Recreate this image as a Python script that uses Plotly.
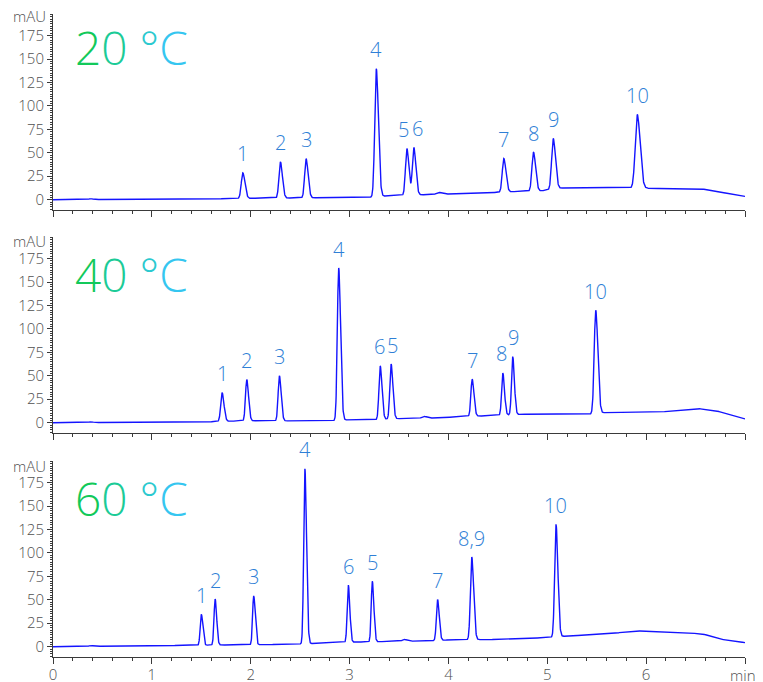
import numpy as np
import plotly.graph_objects as go

# ---------------- data ----------------
panel_titles = ["20", "40", "60"]

# peak retention times (min), heights above baseline (mAU), widths (sigma, min)
rt_20 = [0.38, 0.62, 1.92, 2.30, 2.56, 3.27, 3.58, 3.65, 3.90, 4.56, 4.86, 5.06, 5.91]
h_20 = [0.8, 0.5, 27.3, 38.6, 41.6, 136.5, 49.6, 50.5, 2.0, 35.8, 41.4, 54.0, 78.3]
w_20 = [0.02, 0.02, 0.018, 0.017, 0.017, 0.018, 0.017, 0.017, 0.025, 0.018, 0.018, 0.019, 0.024]
lab_20 = ["", "", "1", "2", "3", "4", "5", "6", "", "7", "8", "9", "10"]
base_t_20 = [0.0, 1.5, 1.9, 2.3, 2.6, 3.2, 3.4, 3.78, 4.0, 4.5, 4.65, 4.95, 5.15, 5.9, 6.1, 6.57, 7.0]
base_v_20 = [0.0, 0.8, 1.3, 1.8, 2.0, 2.5, 4.3, 5.4, 6.0, 7.8, 8.6, 9.6, 12.5, 12.5, 12.0, 11.4, 3.5]

rt_40 = [0.38, 0.75, 1.71, 1.96, 2.29, 2.89, 3.31, 3.42, 3.75, 4.24, 4.55, 4.65, 5.49]
h_40 = [0.7, 0.5, 30.5, 44.0, 48.0, 162.5, 57.0, 58.5, 2.0, 39.5, 45.0, 62.0, 110.0]
w_40 = [0.02, 0.02, 0.016, 0.015, 0.015, 0.016, 0.015, 0.015, 0.022, 0.015, 0.014, 0.014, 0.018]
lab_40 = ["", "", "1", "2", "3", "4", "6", "5", "", "7", "8", "9", "10"]
base_t_40 = [0.0, 1.55, 1.7, 2.0, 2.8, 3.0, 3.25, 3.5, 3.85, 4.2, 4.5, 4.75, 5.4, 5.6, 6.1, 6.53, 6.7, 7.0]
base_v_40 = [0.0, 0.8, 1.5, 2.0, 1.8, 3.2, 3.2, 4.3, 5.0, 6.7, 7.8, 9.0, 8.8, 11.0, 11.0, 15.0, 13.0, 4.0]

rt_60 = [0.38, 0.65, 1.50, 1.64, 2.03, 2.548, 2.987, 3.23, 3.55, 3.89, 4.236, 5.088]
h_60 = [0.7, 0.6, 33.0, 49.0, 52.0, 186.5, 61.0, 64.5, 2.0, 43.5, 88.0, 120.0]
w_60 = [0.02, 0.02, 0.013, 0.013, 0.013, 0.014, 0.013, 0.013, 0.02, 0.014, 0.016, 0.016]
lab_60 = ["", "", "1", "2", "3", "4", "6", "5", "", "7", "8,9", "10"]
base_t_60 = [0.0, 1.4, 1.7, 2.4, 2.9, 3.4, 3.7, 4.1, 4.4, 5.0, 5.15, 5.65, 5.89, 6.2, 6.56, 6.75, 7.0]
base_v_60 = [0.0, 1.5, 1.8, 2.5, 4.6, 5.5, 6.0, 7.5, 7.5, 9.6, 11.0, 14.0, 17.0, 15.0, 14.0, 8.0, 4.3]

y_ticks = [0, 25, 50, 75, 100, 125, 150, 175]
x_ticks = [0, 1, 2, 3, 4, 5, 6, 7]
x_tick_text = ["0", "1", "2", "3", "4", "5", "6", ""]
x_unit = "min"
y_unit = "mAU"

# ---------------- build traces ----------------
t = np.linspace(0, 7, 3501)


def chromatogram(rts, hs, ws, bt, bv):
    y = np.interp(t, bt, bv)
    for r, h, w in zip(rts, hs, ws):
        s = np.where(t < r, w * 0.85, w * 1.2)
        y = y + h * np.exp(-0.5 * ((t - r) / s) ** 2)
    return y


panels = [
    (rt_20, h_20, w_20, lab_20, base_t_20, base_v_20),
    (rt_40, h_40, w_40, lab_40, base_t_40, base_v_40),
    (rt_60, h_60, w_60, lab_60, base_t_60, base_v_60),
]

OFF = 8  # page body margin
W, H = 763, 682
ML, MR, MT, MB = 45, 26, 4, 33
PW = W - ML - MR
PH = H - MT - MB


def ypaper(page_px):
    return 1 - (page_px - OFF - MT) / PH


def xpaper(page_px):
    return (page_px - OFF - ML) / PW


def ydom(top_px, bot_px):
    return [max(0.0, ypaper(bot_px)), min(1.0, ypaper(top_px))]


doms = [ydom(14, 210), ydom(237, 433), ydom(461, 657)]
title_y_px = [47, 274, 498]
mau_y_px = [16, 241, 466]

# small horizontal nudges for adjacent labels (pixels)
label_dx = {(0, "5"): -3, (0, "6"): 4, (1, "6"): -1, (1, "5"): 1, (1, "8"): -1, (1, "9"): 1}

fig = go.Figure()
label_color = "#2f7fd6"
line_color = "#1414ff"
axis_color = "#3a3a3a"
FONT = "Open Sans, Lato, sans-serif"
tick_font = dict(family=FONT, size=15, color="#505050", weight=300)

annotations = []
for i, (rts, hs, ws, labs, bt, bv) in enumerate(panels):
    yname = "y" if i == 2 else f"y{3 - i}"
    xname = "x" if i == 2 else f"x{3 - i}"
    y = chromatogram(rts, hs, ws, bt, bv)
    fig.add_trace(go.Scatter(x=t, y=y, mode="lines", xaxis=xname, yaxis=yname,
                             line=dict(color=line_color, width=1.4), hoverinfo="skip",
                             showlegend=False))
    for r, h, lab in zip(rts, hs, labs):
        if not lab:
            continue
        top = float(np.interp(r, bt, bv)) + h
        annotations.append(dict(x=r, y=top, xref=xname, yref=yname, text=lab,
                                showarrow=False, yanchor="middle", yshift=19,
                                xshift=label_dx.get((i, lab), 0),
                                font=dict(family=FONT, size=20, color=label_color, weight=300)))
    num = panel_titles[i]
    txt = (f"<span style='color:#12c95a'>{num[0]}</span>"
           f"<span style='color:#1ccb97'>{num[1]}</span>"
           f"<span style='color:#2bc9cf'> °</span>"
           f"<span style='color:#35c6f0'>C</span>")
    annotations.append(dict(x=xpaper(73), y=ypaper(title_y_px[i]),
                            xref="paper", yref="paper", text=txt, showarrow=False,
                            xanchor="left", yanchor="middle",
                            font=dict(family=FONT, size=46, weight=300)))
    annotations.append(dict(x=xpaper(48), y=ypaper(mau_y_px[i]),
                            xref="paper", yref="paper", text=y_unit, showarrow=False,
                            xanchor="right", yanchor="middle", font=tick_font))

annotations.append(dict(x=xpaper(758), y=ypaper(675), xref="paper", yref="paper",
                        text=x_unit, showarrow=False, xanchor="right", yanchor="middle",
                        font=dict(family=FONT, size=15, color="#505050", weight=300)))

xaxis_common = dict(range=[0, 7], showline=True, linecolor=axis_color, linewidth=1,
                    ticks="outside", ticklen=6, tickcolor=axis_color, tickwidth=1,
                    tickvals=x_ticks, showgrid=False, zeroline=False,
                    minor=dict(dtick=0.2, ticks="outside", ticklen=3, tickcolor=axis_color,
                               showgrid=False),
                    domain=[0, 1], automargin=False, fixedrange=True)
yaxis_common = dict(range=[-11, 198], showline=True, linecolor=axis_color, linewidth=1,
                    ticks="outside", ticklen=5, tickcolor=axis_color, tickwidth=1,
                    tickvals=y_ticks, showgrid=False, zeroline=False, tickfont=tick_font,
                    minor=dict(dtick=2.5, ticks="outside", ticklen=2, tickcolor=axis_color,
                               showgrid=False),
                    automargin=False, fixedrange=True)

fig.update_layout(
    width=W, height=H,
    margin=dict(l=ML, r=MR, t=MT, b=MB),
    paper_bgcolor="white", plot_bgcolor="white",
    xaxis=dict(xaxis_common, anchor="y", showticklabels=True, ticktext=x_tick_text,
               ticklabelstandoff=-2,
               tickfont=dict(family=FONT, size=15, color="#505050", weight=300)),
    xaxis2=dict(xaxis_common, anchor="y2", showticklabels=False, matches="x"),
    xaxis3=dict(xaxis_common, anchor="y3", showticklabels=False, matches="x"),
    yaxis=dict(yaxis_common, domain=doms[2], anchor="x"),
    yaxis2=dict(yaxis_common, domain=doms[1], anchor="x2"),
    yaxis3=dict(yaxis_common, domain=doms[0], anchor="x3"),
    annotations=annotations,
)

fig.write_html("out.html")
